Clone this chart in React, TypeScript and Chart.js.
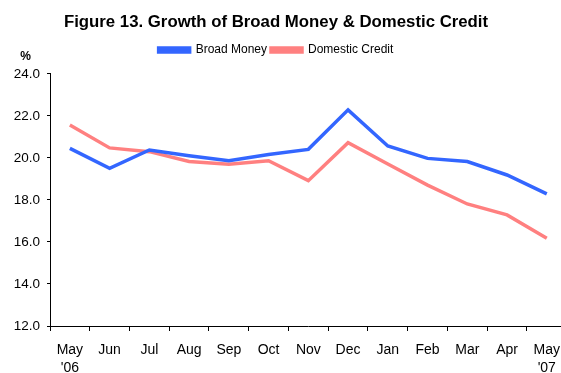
import React, { useEffect, useRef } from "react";
import { Chart, registerables } from "chart.js";

Chart.register(...registerables);

const months: (string | string[])[] = [
  ["May", "'06"], "Jun", "Jul", "Aug", "Sep", "Oct", "Nov", "Dec", "Jan", "Feb", "Mar", "Apr", ["May", "'07"],
];
const broadMoney = [20.46, 19.51, 20.38, 20.11, 19.87, 20.17, 20.41, 22.29, 20.57, 19.98, 19.83, 19.19, 18.29];
const domesticCredit = [21.57, 20.48, 20.3, 19.83, 19.7, 19.87, 18.92, 20.73, 19.71, 18.71, 17.81, 17.29, 16.18];
const yTicksMin = 12;
const yTicksMax = 24;
const yStep = 2;

const FONT = "'Liberation Sans', Arial, sans-serif";
const SHIFT = 18;

const percentPlugin = {
  id: "percentLabel",
  afterDraw(chart: any) {
    const { ctx, chartArea } = chart;
    ctx.save();
    ctx.font = `bold 12px ${FONT}`;
    ctx.fillStyle = "#000";
    ctx.textAlign = "center";
    ctx.textBaseline = "middle";
    ctx.fillText("%", 25.5 + SHIFT, chartArea.top - 17);
    ctx.restore();
  },
};

const legendSpacing = {
  id: "legendSpacing",
  beforeInit(chart: any) {
    const legend = chart.legend;
    if (!legend) return;
    const origFit = legend.fit;
    legend.fit = function () {
      origFit.call(this);
      this.height += 8;
    };
  },
};

export default function App() {
  const ref = useRef<HTMLCanvasElement>(null);
  useEffect(() => {
    if (!ref.current) return;
    const chart = new Chart(ref.current, {
      type: "line",
      data: {
        labels: months,
        datasets: [
          {
            label: "Broad Money",
            data: broadMoney,
            borderColor: "#3366FF",
            backgroundColor: "#3366FF",
            borderWidth: 3.5,
            pointRadius: 0,
            tension: 0,
          },
          {
            label: "Domestic Credit",
            data: domesticCredit,
            borderColor: "#FF8080",
            backgroundColor: "#FF8080",
            borderWidth: 3.5,
            pointRadius: 0,
            tension: 0,
          },
        ],
      },
      options: {
        responsive: false,
        animation: false,
        layout: { padding: { left: 0, right: 0, top: 0, bottom: 0 } },
        plugins: {
          title: {
            display: true,
            text: "Figure 13. Growth of Broad Money & Domestic Credit",
            color: "#000",
            font: { family: FONT, size: 16.8, weight: "bold" },
            padding: { top: 12, bottom: 7.8 },
          },
          legend: {
            display: true,
            labels: {
              color: "#000",
              font: { family: FONT, size: 12 },
              boxWidth: 31,
              boxHeight: 4,
              padding: 4,
            },
          },
          tooltip: { enabled: false },
        },
        scales: {
          x: {
            offset: true,
            afterFit(scale: any) {
              scale.height = 47;
            },
            grid: {
              offset: true,
              drawOnChartArea: false,
              drawTicks: true,
              tickLength: 5,
              color: "#000",
            },
            border: { display: true, color: "#000", width: 1 },
            ticks: {
              color: "#000",
              font: { family: FONT, size: 14, lineHeight: 1.3 },
              padding: 10,
              maxRotation: 0,
              autoSkip: false,
            },
          },
          y: {
            min: yTicksMin,
            max: yTicksMax,
            afterFit(scale: any) {
              scale.width = 50 + SHIFT;
            },
            grid: {
              drawOnChartArea: false,
              drawTicks: true,
              tickLength: 3,
              color: "#000",
            },
            border: { display: true, color: "#000", width: 1 },
            ticks: {
              stepSize: yStep,
              color: "#000",
              font: { family: FONT, size: 13.5 },
              padding: 7,
              callback: (v: any) => Number(v).toFixed(1),
            },
          },
        },
      },
      plugins: [percentPlugin, legendSpacing],
    });
    return () => chart.destroy();
  }, []);
  return (
    <div style={{ position: "fixed", left: 0, top: 0, width: 561, height: 373, overflow: "hidden", background: "#fff" }}>
      <canvas
        ref={ref}
        width={570 + SHIFT}
        height={373}
        style={{ display: "block", position: "absolute", left: -SHIFT, top: 0 }}
      />
    </div>
  );
}
